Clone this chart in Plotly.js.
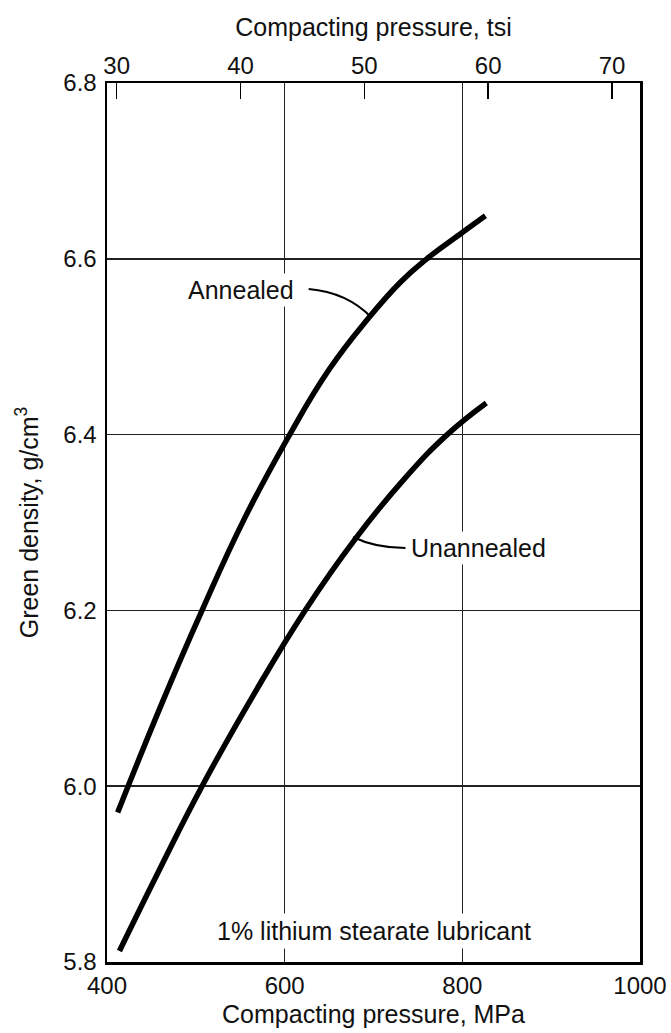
<!DOCTYPE html>
<html>
<head>
<meta charset="utf-8">
<script src="https://cdn.plot.ly/plotly-3.0.1.min.js"></script>
<style>html,body{margin:0;padding:0;background:#fff;}#chart{width:671px;height:1033px;}</style>
</head>
<body>
<div id="chart"></div>
<script>
// Data
const annealedMPa = [412, 460, 507, 555, 604, 650, 694, 730, 760, 800, 826];
const annealedDensity = [5.97, 6.09, 6.2, 6.305, 6.397, 6.474, 6.532, 6.573, 6.6, 6.63, 6.649];
const unannealedMPa = [414, 460, 507, 565, 623, 680, 735, 783, 827];
const unannealedDensity = [5.8125, 5.907, 6.0, 6.104, 6.2, 6.282, 6.35, 6.4, 6.436];
const mpaTicks = [400, 600, 800, 1000];
const tsiTicks = [30, 40, 50, 60, 70];
const densityTicks = [5.8, 6.0, 6.2, 6.4, 6.6, 6.8];
const densityTickLabels = ['5.8', '6.0', '6.2', '6.4', '6.6', '6.8'];

const FONT = 'Liberation Sans, Arial, sans-serif';
const INK = '#111';
const FS = 25;   // titles and labels
const TFS = 24;  // tick labels

const traces = [
  {x: annealedMPa, y: annealedDensity, mode: 'lines', line: {color: '#000', width: 5.5, shape: 'spline', smoothing: 1.3}, hoverinfo: 'skip', showlegend: false},
  {x: unannealedMPa, y: unannealedDensity, mode: 'lines', line: {color: '#000', width: 5.5, shape: 'spline', smoothing: 1.3}, hoverinfo: 'skip', showlegend: false},
  {x: tsiTicks, y: tsiTicks.map(() => null), xaxis: 'x2', mode: 'lines', hoverinfo: 'skip', showlegend: false}
];

const layout = {
  width: 671, height: 1033,
  margin: {l: 107, r: 31, t: 83, b: 71},
  paper_bgcolor: '#fff', plot_bgcolor: '#fff',
  font: {family: FONT, size: FS, color: INK},
  showlegend: false,
  xaxis: {
    range: [400, 1000], tickvals: mpaTicks, ticktext: mpaTicks.map(String),
    showgrid: true, gridcolor: '#222', gridwidth: 1.5,
    showline: true, linecolor: '#000', linewidth: 2.5, mirror: true,
    ticks: 'outside', ticklen: 1, tickcolor: 'rgba(0,0,0,0)',
    zeroline: false,
    tickfont: {family: FONT, size: TFS, color: INK},
    title: {text: 'Compacting pressure, MPa', font: {family: FONT, size: FS, color: INK}, standoff: 7}
  },
  xaxis2: {
    overlaying: 'x', side: 'top', anchor: 'y',
    range: [29.216, 72.26], tickvals: tsiTicks, ticktext: tsiTicks.map(String),
    showgrid: false, showline: false, zeroline: false,
    ticks: 'inside', ticklen: 16, tickwidth: 1.5, tickcolor: '#000',
    ticklabelstandoff: 3,
    tickfont: {family: FONT, size: TFS, color: INK},
    title: {text: 'Compacting pressure, tsi', font: {family: FONT, size: FS, color: INK}, standoff: 8}
  },
  yaxis: {
    range: [5.8, 6.8], tickvals: densityTicks, ticktext: densityTickLabels,
    showgrid: true, gridcolor: '#222', gridwidth: 1.5,
    showline: true, linecolor: '#000', linewidth: 2.5, mirror: true,
    ticks: 'outside', ticklen: 3, tickcolor: 'rgba(0,0,0,0)',
    zeroline: false,
    tickfont: {family: FONT, size: TFS, color: INK},
    title: {text: 'Green density, g/cm<sup>3</sup>', font: {family: FONT, size: FS, color: INK}, standoff: 18}
  },
  annotations: [
    {x: 551, y: 6.5645, xref: 'x', yref: 'y', text: 'Annealed', showarrow: false, bgcolor: '#fff', borderpad: 2, font: {family: FONT, size: FS, color: INK}},
    {x: 818, y: 6.271, xref: 'x', yref: 'y', text: 'Unannealed', showarrow: false, bgcolor: '#fff', borderpad: 2, font: {family: FONT, size: FS, color: INK}},
    {x: 700, y: 5.835, xref: 'x', yref: 'y', text: '1% lithium stearate lubricant', showarrow: false, bgcolor: '#fff', borderpad: 3, font: {family: FONT, size: FS, color: INK}}
  ],
  shapes: [
    {type: 'path', xref: 'x', yref: 'y', path: 'M 627 6.5656 Q 670 6.562 698 6.533', line: {color: '#000', width: 2}},
    {type: 'path', xref: 'x', yref: 'y', path: 'M 677 6.2835 Q 702 6.271 736 6.271', line: {color: '#000', width: 2}}
  ]
};

Plotly.newPlot('chart', traces, layout, {staticPlot: true, displayModeBar: false});
</script>
</body>
</html>
